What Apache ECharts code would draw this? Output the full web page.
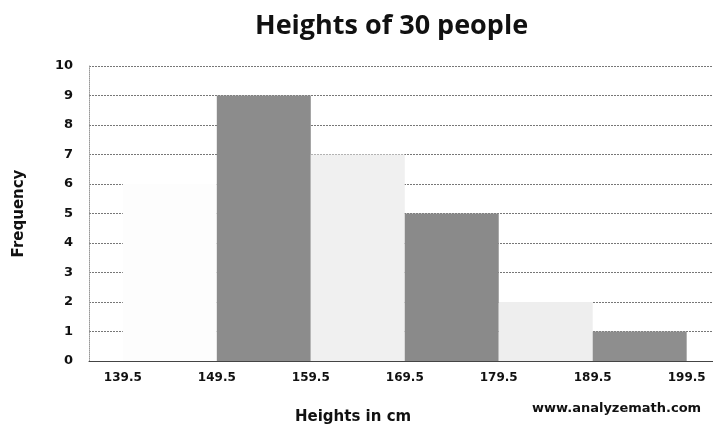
<!DOCTYPE html>
<html>
<head>
<meta charset="utf-8">
<script src="https://cdn.jsdelivr.net/npm/echarts@6/dist/echarts.min.js"></script>
<style>
  html, body { margin: 0; padding: 0; background: #fff; }
  #main { width: 713px; height: 439px; }
</style>
</head>
<body>
<div id="main"></div>
<script>
// histogram data
var binEdges = [139.5, 149.5, 159.5, 169.5, 179.5, 189.5, 199.5];
var frequencies = [6, 9, 7, 5, 2, 1];
var yTicks = [0, 1, 2, 3, 4, 5, 6, 7, 8, 9, 10];

var barFills = ['#fdfdfd', '#8c8c8c', '#f0f0f0', '#8a8a8a', '#eeeeee', '#8e8e8e'];

var bins = frequencies.map(function (f, i) {
    return [binEdges[i], binEdges[i + 1], f];
});

var chart = echarts.init(document.getElementById('main'));
chart.setOption({
    animation: false,
    title: [
        {text: 'Heights of 30 people', left: 250, top: 8,
            textStyle: {fontFamily: 'Open Sans', fontWeight: 'bold', fontSize: 27, color: '#111'}},
        {text: 'Heights in cm', left: 290, top: 405,
            textStyle: {fontFamily: 'DejaVu Sans', fontWeight: 'bold', fontSize: 15, color: '#111'}},
        {text: 'www.analyzemath.com', left: 527, top: 397,
            textStyle: {fontFamily: 'DejaVu Sans', fontWeight: 'bold', fontSize: 13, color: '#111'}}
    ],
    grid: {left: 89, right: 0, top: 66, bottom: 78},
    xAxis: {
        type: 'value', min: 135.9, max: 202.3,
        axisLine: {show: true, lineStyle: {color: '#444', width: 1}},
        axisTick: {show: false},
        splitLine: {show: false},
        axisLabel: {
            customValues: binEdges, margin: 11,
            fontFamily: 'DejaVu Sans', fontWeight: 'bold', fontSize: 12, color: '#111',
            formatter: function (v) { return v.toFixed(1); }
        }
    },
    yAxis: {
        type: 'value', min: 0, max: 10, interval: 1,
        name: 'Frequency', nameLocation: 'middle', nameRotate: 90, nameGap: 62,
        nameTextStyle: {fontFamily: 'DejaVu Sans', fontWeight: 'bold', fontSize: 15, color: '#111'},
        axisLine: {show: true, lineStyle: {color: '#999', type: 'dotted'}},
        axisTick: {show: false},
        axisLabel: {margin: 16, fontFamily: 'DejaVu Sans', fontWeight: 'bold', fontSize: 13, color: '#111',
            customValues: yTicks},
        splitLine: {show: true, lineStyle: {color: '#777', type: [2, 1], width: 1}}
    },
    series: [{
        type: 'custom',
        data: bins,
        encode: {x: [0, 1], y: 2},
        renderItem: function (params, api) {
            var p0 = api.coord([api.value(0), api.value(2)]);
            var p1 = api.coord([api.value(1), 0]);
            return {
                type: 'rect',
                shape: {x: p0[0], y: p0[1], width: p1[0] - p0[0], height: p1[1] - p0[1]},
                style: {fill: barFills[params.dataIndex], stroke: null}
            };
        }
    }]
});
</script>
</body>
</html>
